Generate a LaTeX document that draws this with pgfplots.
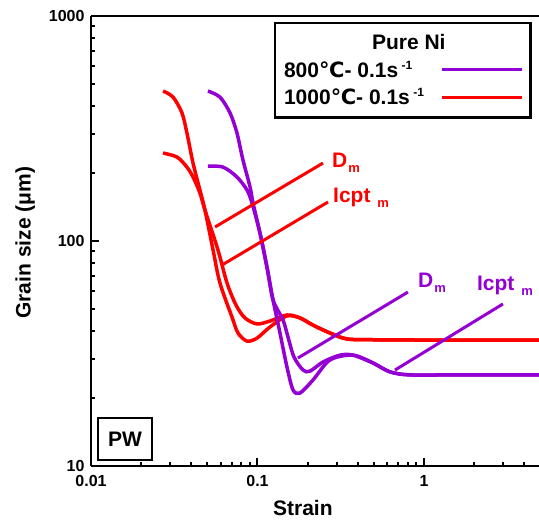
\documentclass[border=0pt]{standalone}
\usepackage{pgfplots}
\pgfplotsset{compat=1.18}
\usepackage{fontspec}
\setmainfont{Liberation Sans}
\newfontfamily\djv{DejaVu Sans}
\definecolor{myviolet}{RGB}{148,0,211}
\definecolor{myred}{RGB}{255,0,0}
\newcommand{\sub}[1]{\raisebox{-5pt}{\fontsize{13}{13}\selectfont #1}}
\newcommand{\sups}[1]{\raisebox{8pt}{\fontsize{12}{12}\selectfont #1}}
\begin{document}
\begin{tikzpicture}
\begin{axis}[
  at={(0,0)}, anchor=south west,
  scale only axis, width=448pt, height=450pt,
  xmode=log, ymode=log,
  xmin=0.01, xmax=4.906, ymin=10, ymax=1000,
  axis x line=box, axis y line=left,
  axis line style={line width=2.5pt, -},
  xtick pos=bottom, ytick pos=left,
  tick align=inside,
  major tick length=8pt, minor tick length=4pt,
  tick style={line width=2pt, black},
  xtick={0.01,0.1,1}, xticklabels={0.01,0.1,1},
  minor xtick={0.02,0.03,0.04,0.05,0.06,0.07,0.08,0.09,0.2,0.3,0.4,0.5,0.6,0.7,0.8,0.9,2,3,4},
  ytick={10,100,1000}, yticklabels={10,100,1000},
  minor ytick={20,30,40,50,60,70,80,90,200,300,400,500,600,700,800,900},
  tick label style={font=\bfseries\fontsize{16}{16}\selectfont},
  xticklabel style={yshift=-6pt},
  yticklabel style={xshift=-3pt},
  xlabel={Strain}, ylabel={Grain size (μm)},
  label style={font=\bfseries\fontsize{21}{21}\selectfont},
  xlabel style={at={(axis description cs:0.473,-0.109)}, anchor=base},
  ylabel style={at={(axis description cs:-0.147,0.496)}, anchor=center},
  legend style={at={(0.984,0.987)}, anchor=north east, draw=black, line width=2.5pt,
    font=\bfseries\fontsize{21}{23}\selectfont, inner xsep=7pt, inner ysep=9pt, row sep=6pt,
    /tikz/every odd column/.append style={column sep=14pt}},
  legend cell align=left, legend plot pos=right,
  legend image code/.code={\draw[#1] (0pt,0pt) -- (80pt,0pt);},
]
% red (1000C) curves
\addplot[myred, line width=3.5pt, smooth, forget plot] coordinates {
(0.0271,464) (0.0311,436) (0.0352,371) (0.0377,302) (0.0410,222) (0.0451,168.5) (0.0484,137)
(0.0541,91.2) (0.0595,65.1) (0.0703,45.9) (0.0764,39.0) (0.0865,35.9) (0.0993,37.0) (0.119,41.5)
(0.150,46.4) (0.180,45.5) (0.215,42.3) (0.2725,39.0) (0.345,36.7) (0.5,36.4) (1,36.3) (2,36.3) (4.906,36.3)};
\addplot[myred, line width=3.5pt, smooth, forget plot] coordinates {
(0.0271,246) (0.0329,236) (0.0377,213) (0.0410,192.5) (0.0451,163.5) (0.0484,137)
(0.0579,91.2) (0.0656,65.1) (0.0743,51.9) (0.0841,45.5) (0.0993,42.8) (0.119,44.1)
(0.1504,46.9) (0.180,45.5) (0.215,42.3) (0.2725,39.0) (0.345,36.7) (0.5,36.4) (1,36.3) (2,36.3) (4.906,36.3)};
% violet (800C) curves
\addplot[myviolet, line width=3.5pt, smooth, forget plot] coordinates {
(0.0504,464) (0.0595,436) (0.0684,371) (0.0753,302) (0.0818,229) (0.0902,174) (0.0940,147.5)
(0.1035,108.5) (0.114,76.6) (0.124,54.7) (0.1365,39.0) (0.1504,27.5) (0.1634,21.8) (0.180,21.1)
(0.2154,24.1) (0.2725,29.6) (0.3747,31.1) (0.494,28.7) (0.625,26.2) (0.824,25.4) (1.5,25.4) (4.906,25.4)};
\addplot[myviolet, line width=3.5pt, smooth, forget plot] coordinates {
(0.0504,215) (0.0621,213) (0.0753,192.5) (0.0865,168.5) (0.0927,147.5)
(0.1035,108.5) (0.114,76.6) (0.124,54.7) (0.1423,44.6) (0.1525,37.4) (0.1657,30.5) (0.1877,26.7)
(0.2067,26.4) (0.2474,29.0) (0.313,31.1) (0.3747,31.1) (0.494,28.7) (0.625,26.2) (0.824,25.4) (1.5,25.4) (4.906,25.4)};
% tangent lines
\addplot[myred, line width=3pt, forget plot] coordinates {(0.0556,115.4) (0.2474,222)};
\addplot[myred, line width=3pt, forget plot] coordinates {(0.0612,78.2) (0.2651,149)};
\addplot[myviolet, line width=3pt, forget plot] coordinates {(0.175,30.2) (0.801,59.3)};
\addplot[myviolet, line width=3pt, forget plot] coordinates {(0.670,26.7) (2.98,52.5)};
% labels
\node[anchor=base west, inner sep=0pt, text=myred, font=\bfseries\fontsize{21}{21}\selectfont] at (axis cs:0.280,213) {D\hspace{1pt}\sub{m}};
\node[anchor=base west, inner sep=0pt, text=myred, font=\bfseries\fontsize{21}{21}\selectfont] at (axis cs:0.284,149) {Icpt\hspace{7pt}\sub{m}};
\node[anchor=base west, inner sep=0pt, text=myviolet, font=\bfseries\fontsize{21}{21}\selectfont] at (axis cs:0.920,62.4) {D\hspace{1pt}\sub{m}};
\node[anchor=base west, inner sep=0pt, text=myviolet, font=\bfseries\fontsize{21}{21}\selectfont] at (axis cs:2.08,60.5) {Icpt\hspace{7pt}\sub{m}};
\node[draw=black, line width=2.5pt, minimum width=54pt, minimum height=42pt, inner sep=0pt,
  font=\bfseries\fontsize{21}{21}\selectfont] at (rel axis cs:0.076,0.06) {PW};
% legend
\addlegendimage{empty legend}
\addlegendentry{\makebox[0pt][l]{\hspace*{88pt}Pure Ni}}
\addlegendimage{myviolet, line width=3.5pt}
\addlegendentry{800{\djv ℃}- 0.1s\,\sups{-1}}
\addlegendimage{myred, line width=3.5pt}
\addlegendentry{1000{\djv ℃}- 0.1s\,\sups{-1}}
\end{axis}
\pgfresetboundingbox
\path[use as bounding box] (-91pt,-56pt) rectangle (448pt,466pt);
\end{tikzpicture}
\end{document}
